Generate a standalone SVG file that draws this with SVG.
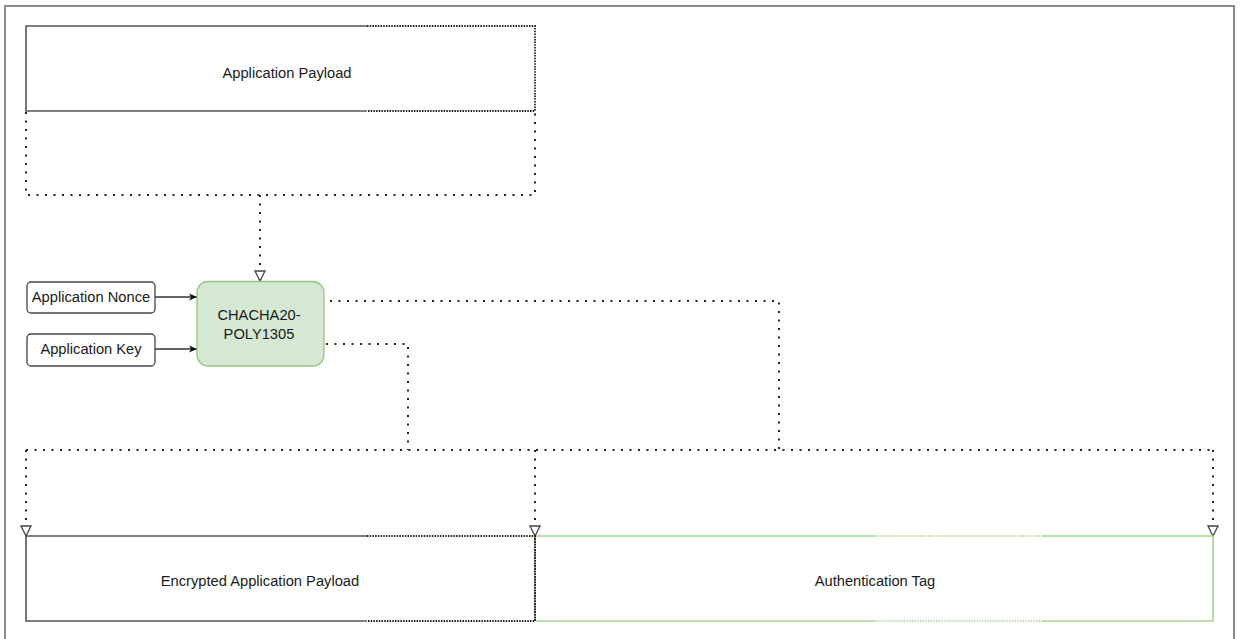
<svg xmlns="http://www.w3.org/2000/svg" width="1241" height="639" viewBox="0 0 1241 639">
<style>
text{font-family:"Liberation Sans",Arial,sans-serif;font-size:14.7px;fill:#1a1a1a;text-anchor:middle}
.solid{fill:none;stroke:#555;stroke-width:1.6}
.fine{fill:none;stroke:#222;stroke-width:1.8;stroke-dasharray:1.5 1.2}
.green{fill:none;stroke:#acd296;stroke-width:1.6}
.gfine{fill:none;stroke:#acd296;stroke-width:1.6;stroke-dasharray:1.5 1.2}
.dot{fill:none;stroke:#222;stroke-width:2;stroke-dasharray:2 6.5}
</style>
<defs>
<marker id="open" viewBox="0 0 12 12" refX="11" refY="6" markerWidth="12" markerHeight="12" markerUnits="userSpaceOnUse" orient="auto">
<path d="M1,1 L11,6 L1,11 Z" fill="#fff" stroke="#444" stroke-width="1.3"/>
</marker>
<marker id="fill" viewBox="0 0 10 10" refX="9" refY="5" markerWidth="9" markerHeight="9" markerUnits="userSpaceOnUse" orient="auto">
<path d="M0,1 L9,5 L0,9 L2.5,5 Z" fill="#111"/>
</marker>
</defs>
<rect x="0" y="0" width="1241" height="639" fill="#fff"/>
<path d="M5,639 V6 H1234 V639" fill="none" stroke="#8a8a8a" stroke-width="2"/>

<g id="connectors">
<path class="dot" d="M26,112 V195 H535 V112"/>
<path class="dot" d="M260,195 V270"/>
<path class="dot" d="M330,301 H779 V450"/>
<path class="dot" d="M326,344 H408 V450"/>
<path class="dot" d="M26,450 H1213"/>
<path class="dot" d="M26,450 V526"/>
<path class="dot" d="M535,450 V526"/>
<path class="dot" d="M1213,450 V526"/>
<line x1="260" y1="272" x2="260" y2="281" stroke="none" marker-end="url(#open)"/>
<line x1="26" y1="527" x2="26" y2="536" stroke="none" marker-end="url(#open)"/>
<line x1="535" y1="527" x2="535" y2="536" stroke="none" marker-end="url(#open)"/>
<line x1="1213" y1="527" x2="1213" y2="536" stroke="none" marker-end="url(#open)"/>
<path d="M155,297 H197" stroke="#333" stroke-width="1.3" fill="none" marker-end="url(#fill)"/>
<path d="M155,349 H197" stroke="#333" stroke-width="1.3" fill="none" marker-end="url(#fill)"/>
</g>

<g id="payload">
<path class="solid" d="M367,26 H26 V111 H367"/>
<path class="fine" d="M367,26 H535 V111 H367"/>
<text x="287" y="78">Application Payload</text>
</g>

<g id="nonce">
<rect x="27" y="282" width="128" height="31" rx="4" fill="#fff" stroke="#444" stroke-width="1.3"/>
<text x="91" y="302">Application Nonce</text>
</g>

<g id="key">
<rect x="27" y="334" width="128" height="32" rx="4" fill="#fff" stroke="#444" stroke-width="1.3"/>
<text x="91" y="354">Application Key</text>
</g>

<g id="chacha">
<rect x="197" y="281.5" width="127" height="84.5" rx="11" fill="#d5e8d4" stroke="#97c581" stroke-width="1.3"/>
<text x="259" y="319.5">CHACHA20-</text>
<text x="259" y="339">POLY1305</text>
</g>

<g id="encrypted">
<path class="solid" d="M367,536 H26 V621 H367"/>
<path class="fine" d="M367,536 H535 V621 H367"/>
<text x="260" y="586">Encrypted Application Payload</text>
</g>

<g id="tag">
<path class="green" d="M536,536 H874 M1043,536 H1213 V621 H1043 M874,621 H536"/>
<path class="gfine" d="M874,536 H1043 M874,621 H1043"/>
<path class="fine" d="M535,536 V621"/>
<text x="875" y="586">Authentication Tag</text>
</g>
</svg>
